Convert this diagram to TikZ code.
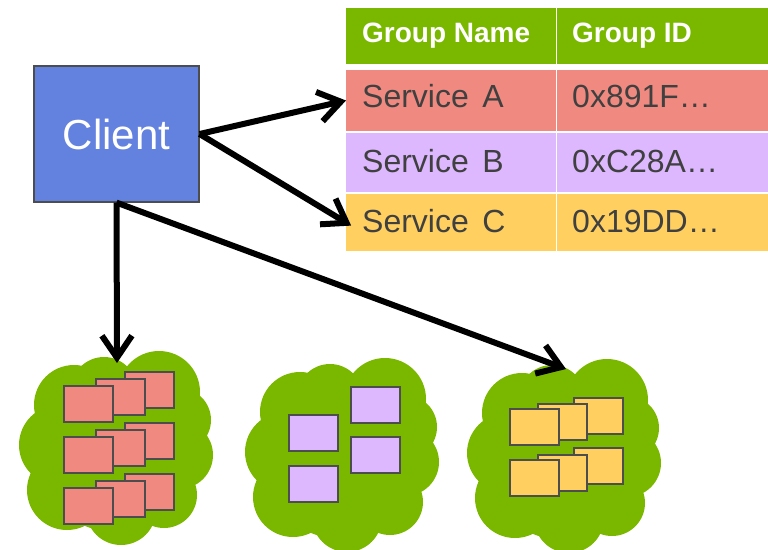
\documentclass[tikz,border=0pt]{standalone}
\usepackage{fontspec}
\setmainfont{Liberation Sans}
\usetikzlibrary{arrows.meta}
\definecolor{leaf}{HTML}{7AB800}
\definecolor{salmon}{HTML}{F08A80}
\definecolor{lilac}{HTML}{DDB8FF}
\definecolor{amber}{HTML}{FFD060}
\definecolor{clientblue}{HTML}{6381DE}
\definecolor{ink}{HTML}{404040}
\definecolor{edge}{HTML}{4D4D4D}
\tikzset{
  % bumpy blob that holds one group of service instances
  groupcloud/.pic={
    \fill[leaf]
      (97,100) circle[radius=82]
      (55,55) circle[radius=40]
      (85,40) circle[radius=33]
      (140,42) circle[radius=41]
      (160,70) circle[radius=32]
      (160,105) circle[radius=34]
      (145,145) circle[radius=33]
      (102,160) circle[radius=35]
      (48,140) circle[radius=40]
      (40,95) circle[radius=40];
  }
}
\begin{document}
\begin{tikzpicture}[x=1pt,y=-1pt,
  cell/.style={rectangle, inner sep=0pt, outer sep=0pt, anchor=north west},
  celltext/.style={anchor=base west, inner sep=0pt, text=ink, font=\fontsize{32}{36}\selectfont},
  headtext/.style={anchor=base west, inner sep=0pt, text=white, font=\bfseries\fontsize{28}{32}\selectfont},
  link/.style={line width=6pt, -{Straight Barb[length=22pt,width=30pt]}, line join=round},
  card/.style={draw=edge, line width=2.5pt, rectangle, inner sep=0pt, outer sep=0pt,
               minimum width=49pt, minimum height=36pt, anchor=north west},
]
\useasboundingbox (0,0) rectangle (768,549);

% table of service groups
\node[cell, fill=leaf, minimum width=210pt, minimum height=56pt] (h1) at (346,8) {};
\node[cell, fill=leaf, minimum width=211pt, minimum height=56pt] (h2) at (557,8) {};
\node[cell, fill=salmon, minimum width=210pt, minimum height=61pt] (a1) at (346,70) {};
\node[cell, fill=salmon, minimum width=211pt, minimum height=61pt] (a2) at (557,70) {};
\node[cell, fill=lilac, minimum width=210pt, minimum height=59pt] (b1) at (346,133) {};
\node[cell, fill=lilac, minimum width=211pt, minimum height=59pt] (b2) at (557,133) {};
\node[cell, fill=amber, minimum width=210pt, minimum height=57pt] (c1) at (346,194) {};
\node[cell, fill=amber, minimum width=211pt, minimum height=57pt] (c2) at (557,194) {};

\node[headtext] (th1) at (362,42) {Group Name};
\node[headtext] (th2) at (572,42) {Group ID};
\node[celltext] (ta1) at (362,107) {Service\hspace{0.42em}A};
\node[celltext] (ta2) at (572,107) {0x891F…};
\node[celltext] (tb1) at (362,172) {Service\hspace{0.42em}B};
\node[celltext] (tb2) at (572,172) {0xC28A…};
\node[celltext] (tc1) at (362,232) {Service\hspace{0.42em}C};
\node[celltext] (tc2) at (572,232) {0x19DD…};

% client
\node[draw=edge, line width=1.2pt, fill=clientblue, minimum width=165pt, minimum height=136pt,
      text=white, font=\fontsize{42}{48}\selectfont] (client) at (116.5,134) {Client};

% groups of service instances
\pic at (19,350) {groupcloud};
\pic at (245,357) {groupcloud};
\pic at (467,358) {groupcloud};

% group A
\node[card, fill=salmon] (a11) at (125,372) {};
\node[card, fill=salmon] (a12) at (96,379) {};
\node[card, fill=salmon] (a13) at (64,386) {};
\node[card, fill=salmon] (a21) at (125,423) {};
\node[card, fill=salmon] (a22) at (96,430) {};
\node[card, fill=salmon] (a23) at (64,437) {};
\node[card, fill=salmon] (a31) at (125,474) {};
\node[card, fill=salmon] (a32) at (96,481) {};
\node[card, fill=salmon] (a33) at (64,488) {};

% group B
\node[card, fill=lilac] (b11) at (351,387) {};
\node[card, fill=lilac] (b12) at (289,415) {};
\node[card, fill=lilac] (b21) at (351,437) {};
\node[card, fill=lilac] (b22) at (289,466) {};

% group C
\node[card, fill=amber] (c11) at (574,398) {};
\node[card, fill=amber] (c12) at (538,404) {};
\node[card, fill=amber] (c13) at (510,409) {};
\node[card, fill=amber] (c21) at (574,448) {};
\node[card, fill=amber] (c22) at (538,455) {};
\node[card, fill=amber] (c23) at (510,460) {};

% connectors
\coordinate (groupAtop) at (117,363);
\coordinate (groupCtop) at (566,369);
\draw[link] (client.east) -- (a1.west);
\draw[link, shorten >=-6pt] (client.east) -- (c1.west);
\draw[link] (client.south) -- (groupAtop);
\draw[link] (client.south) -- (groupCtop);
\end{tikzpicture}
\end{document}
